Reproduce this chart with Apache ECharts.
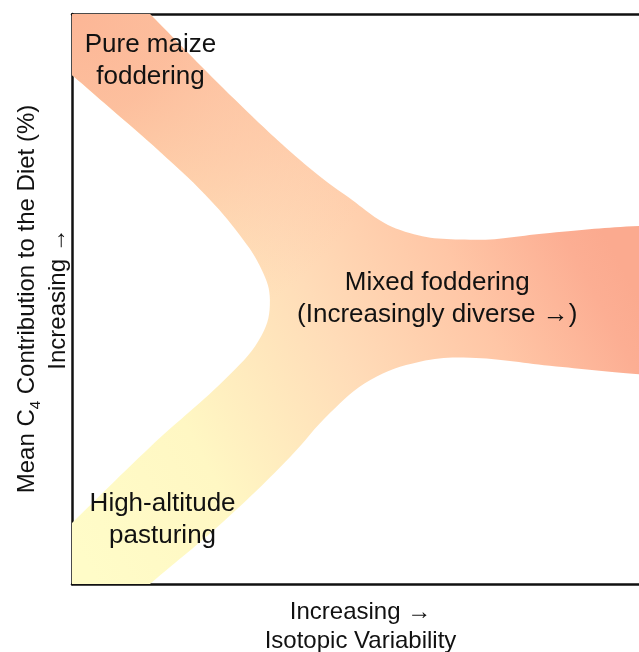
<!DOCTYPE html>
<html>
<head>
<meta charset="utf-8">
<script src="https://cdn.jsdelivr.net/npm/echarts/dist/echarts.min.js"></script>
<style>
  html, body { margin: 0; padding: 0; background: #fff; }
  #chart { width: 639px; height: 652px; }
</style>
</head>
<body>
<div id="chart"></div>
<script>
// outline of the Y-shaped band (x: isotopic variability, y: mean C4 contribution), 0-100 scale
const bandX = [-7.3, 8.3, 13.5, 28.3, 39.5, 47.3, 56.9, 69.0, 82.8, 98.3, 105.4,
  108.8, 105.4, 98.3, 82.8, 69.0, 60.3, 51.7, 44.7, 37.8, 26.5, 13.5, 8.3,
  -7.3, -3.8, 0, 13.5, 27.4, 32.9, 34.3, 32.9, 29.1, 23.1, 15.3, 6.6, 0, -4.7];
const bandY = [107.7, 105.3, 100.0, 84.9, 74.4, 68.3, 62.1, 60.4, 61.6, 62.8, 62.5,
  49.8, 36.5, 36.8, 38.3, 39.7, 39.0, 35.8, 30.0, 22.3, 11.2, 0, -4.6,
  -8.1, 7.0, 10.7, 24.0, 36.8, 43.7, 49.8, 55.1, 61.2, 68.3, 75.8, 83.5, 89.3, 93.3];

const labelNames = ['Pure maize\nfoddering', 'Mixed foddering\n(Increasingly diverse \u2192)', 'High-altitude\npasturing'];
const labelX = [13.6, 63.3, 15.7];
const labelY = [91.8, 50.0, 11.3];

const xTitle = 'Increasing \u2192\nIsotopic Variability';
const yTitle = 'Mean C{sub|4} Contribution to the Diet (%)\nIncreasing \u2192';

const chart = echarts.init(document.getElementById('chart'));
const font = "'Liberation Sans', Arial, Helvetica, sans-serif";
const frame = { show: true, onZero: false, lineStyle: { color: '#111', width: 2.5 } };

const option = {
  animation: false,
  grid: { left: 72, top: 14, right: -10, bottom: 68, containLabel: false, outerBoundsMode: 'none' },
  xAxis: [{
    type: 'value', min: 0, max: 100, position: 'bottom',
    axisLine: frame, axisTick: { show: false }, axisLabel: { show: false }, splitLine: { show: false },
    name: xTitle, nameLocation: 'middle', nameGap: 14,
    nameTextStyle: { fontFamily: font, fontSize: 24, lineHeight: 29, color: '#111' }
  }, {
    type: 'value', min: 0, max: 100, position: 'top',
    axisLine: frame, axisTick: { show: false }, axisLabel: { show: false }, splitLine: { show: false }
  }],
  yAxis: {
    type: 'value', min: 0, max: 100,
    axisLine: frame, axisTick: { show: false }, axisLabel: { show: false }, splitLine: { show: false },
    name: yTitle, nameLocation: 'middle', nameGap: -2, nameRotate: 90,
    nameTextStyle: {
      fontFamily: font, fontSize: 24, lineHeight: 31, color: '#111',
      rich: { sub: { fontFamily: font, fontSize: 15, lineHeight: 31, verticalAlign: 'bottom', color: '#111' } }
    }
  },
  series: [{
    type: 'custom',
    clip: true,
    silent: true,
    data: [0],
    renderItem: function (params, api) {
      const pts = bandX.map((x, i) => api.coord([x, bandY[i]]));
      const cs = params.coordSys;
      const base = new echarts.graphic.LinearGradient(
        cs.x + 28, cs.y + cs.height + 6, cs.x + 568, cs.y + 286, [
          { offset: 0, color: '#fffcc8' },
          { offset: 0.25, color: '#fff7c3' },
          { offset: 0.53, color: '#ffdcb8' },
          { offset: 0.76, color: '#ffc6a6' },
          { offset: 0.94, color: '#fcae93' },
          { offset: 1, color: '#fbaa8f' }
        ], true);
      const corner = new echarts.graphic.RadialGradient(cs.x, cs.y, 350, [
        { offset: 0, color: 'rgba(252,182,150,1)' },
        { offset: 0.3, color: 'rgba(252,184,152,0.85)' },
        { offset: 0.65, color: 'rgba(253,190,158,0.45)' },
        { offset: 1, color: 'rgba(253,200,170,0)' }
      ], true);
      return {
        type: 'group',
        children: [
          { type: 'polygon', shape: { points: pts, smooth: 0.4 }, style: { fill: base } },
          { type: 'polygon', shape: { points: pts, smooth: 0.4 }, style: { fill: corner } }
        ]
      };
    },
    z: 1
  }, {
    type: 'scatter',
    symbolSize: 0,
    silent: true,
    itemStyle: { opacity: 1 },
    data: labelNames.map((n, i) => ({ name: n, value: [labelX[i], labelY[i]] })),
    label: {
      show: true, position: 'inside', formatter: '{b}',
      fontFamily: font, fontSize: 26, lineHeight: 32, color: '#111', align: 'center'
    },
    z: 3
  }]
};
chart.setOption(option);
</script>
</body>
</html>
